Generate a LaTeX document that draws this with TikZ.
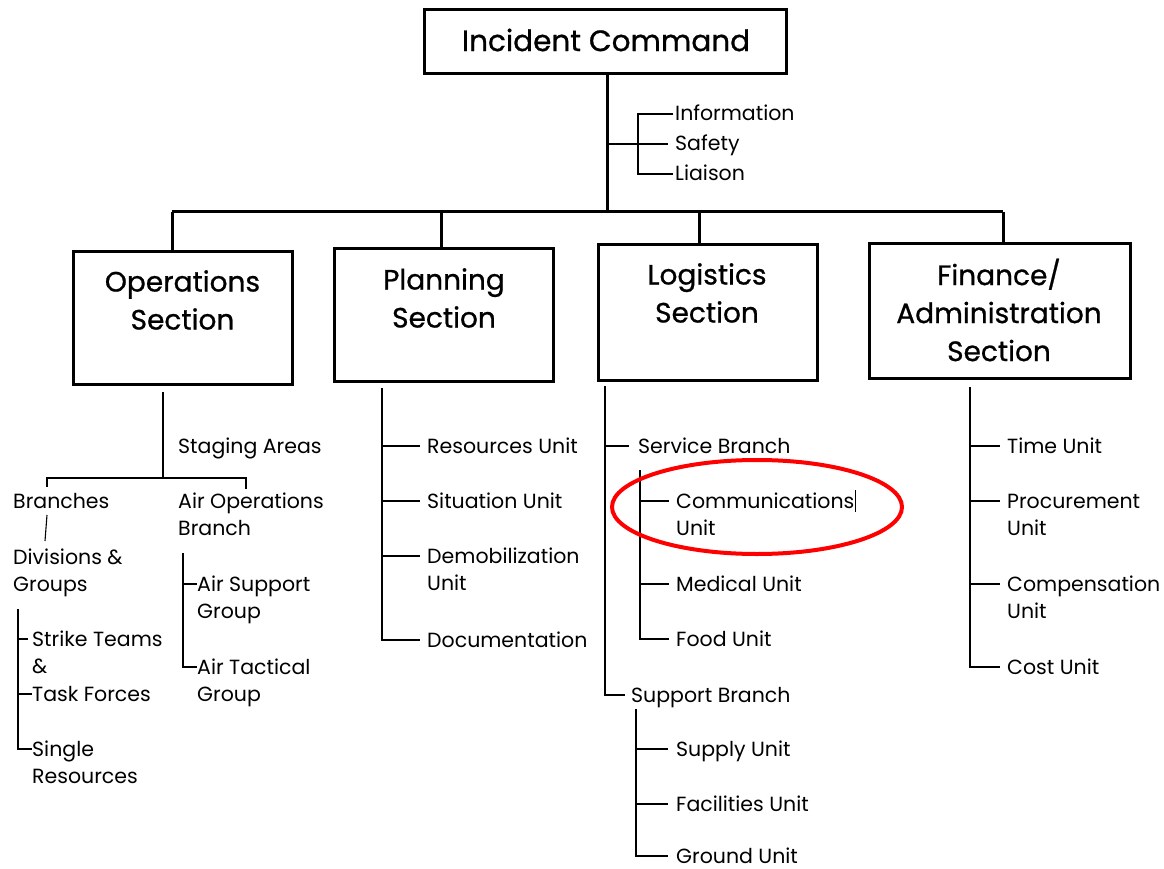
\documentclass[tikz,border=0pt]{standalone}
\usepackage{fontspec}
\setmainfont{Poppins}
\newfontfamily\boxfont{Poppins}[FakeBold=0.8]
\usetikzlibrary{positioning}
\usepackage{xcolor}

\newcommand{\stack}[1]{\begin{tabular}[t]{@{}l@{}}#1\end{tabular}}

\tikzset{
  secbox/.style={draw, line width=3pt, inner sep=0pt},
  sectext/.style={align=center, inner sep=0pt, font=\boxfont\fontsize{28}{38}\selectfont},
  item/.style={anchor=base west, inner sep=0pt, font=\fontsize{20.5}{27.5}\selectfont},
  mainline/.style={line width=3pt},
  treeline/.style={line width=1.1pt}
}

\begin{document}
\begin{tikzpicture}[x=1pt, y=-1pt]
	\useasboundingbox[fill=white] (0,0) rectangle (1164,869);

	% Command box and staff
	\node[secbox, minimum width=362, minimum height=64] (ic) at (605,42) {};
	\node[sectext, font=\boxfont\fontsize{29.5}{38}\selectfont] (ict) at (606,40) {Incident Command};
	\node[item] (info) at (675,121) {Information};
	\node[item] (safety) at (675,151) {Safety};
	\node[item] (liaison) at (675,181) {Liaison};
	\coordinate (stem) at (607,144);
	\coordinate (stf) at (638,174);
	\draw[treeline] ([shift={(-2pt,7pt)}]info.base west) -| (stf) -- ([shift={(-2pt,7pt)}]liaison.base west);
	\draw[treeline] (stem) -- ([shift={(-7pt,7pt)}]safety.base west);

	% Section boxes
	\node[secbox, minimum width=219, minimum height=133] (ops) at (182.5,317.5) {};
	\node[sectext] (opst) at (182.5,300) {Operations\\Section};
	\node[secbox, minimum width=219, minimum height=133] (plan) at (443.5,314.5) {};
	\node[sectext] (plant) at (444,298) {Planning\\Section};
	\node[secbox, minimum width=219, minimum height=136] (log) at (707.5,312) {};
	\node[sectext] (logt) at (707,293) {Logistics\\Section};
	\node[secbox, minimum width=261, minimum height=135] (fin) at (999.5,310.5) {};
	\node[sectext] (fint) at (999,310) {Finance/\\Administration\\Section};

	% Main connectors
	\coordinate (busl) at (172,212);
	\coordinate (busr) at (1003,212);
	\coordinate (s2) at (441,212);
	\coordinate (s3) at (699,212);
	\draw[mainline] (ic.south -| stem) -- (stem |- busl);
	\draw[mainline] (busl) -- (busr);
	\draw[mainline] (busl) -- (busl |- ops.north);
	\draw[mainline] (s2) -- (s2 |- plan.north);
	\draw[mainline] (s3) -- (s3 |- log.north);
	\draw[mainline] (busr) -- (busr |- fin.north);

	% Operations
	\node[item] (staging) at (178,453) {Staging Areas};
	\node[item] (branches) at (13,508) {Branches};
	\node[item] (airops) at (178,508) {\stack{Air Operations\\Branch}};
	\node[item] (divs) at (13,564) {\stack{Divisions \&\\Groups}};
	\node[item] (strike) at (32,646) {\stack{Strike Teams\\\&\\Task Forces}};
	\node[item] (single) at (32,756) {\stack{Single\\Resources}};
	\node[item] (airsup) at (197,591) {\stack{Air Support\\Group}};
	\node[item] (airtac) at (197,674) {\stack{Air Tactical\\Group}};
	\coordinate (opv) at (163,392);
	\coordinate (opl) at (47,478);
	\coordinate (opr) at (246,478);
	\draw[treeline] (opv) -- (opv |- opl);
	\draw[treeline] ([yshift=-9pt]opl) -- (opl) -- (opr) -- ([yshift=-11pt]opr);
	\draw[treeline] ([xshift=34pt,yshift=-7pt]branches.base west) -- ([xshift=32pt,yshift=23pt]divs.base west);
	\coordinate (dv) at (18,609);
	\draw[treeline] (dv) |- ([shift={(-4pt,7pt)}]strike.base west);
	\draw[treeline] (dv) |- ([shift={(0pt,-48pt)}]strike.base west);
	\draw[treeline] (dv) |- ([shift={(0pt,7pt)}]single.base west);
	\coordinate (av) at (183,553);
	\draw[treeline] (av) |- ([shift={(0pt,7pt)}]airsup.base west);
	\draw[treeline] (av) |- ([shift={(0pt,7pt)}]airtac.base west);

	% Planning
	\node[item] (res) at (427,453) {Resources Unit};
	\node[item] (sit) at (427,508) {Situation Unit};
	\node[item] (demob) at (427,563) {\stack{Demobilization\\Unit}};
	\node[item] (doc) at (427,647) {Documentation};
	\coordinate (plv) at (382,388);
	\foreach \n in {res,sit,demob,doc}
		\draw[treeline] (plv) |- ([shift={(-7pt,7pt)}]\n.base west);

	% Logistics
	\node[item] (service) at (638,453) {Service Branch};
	\node[item] (comm) at (676,508) {\stack{Communications\\Unit}};
	\node[item] (med) at (676,591) {Medical Unit};
	\node[item] (food) at (676,646) {Food Unit};
	\node[item] (support) at (631,702) {Support Branch};
	\node[item] (supply) at (676,756) {Supply Unit};
	\node[item] (facil) at (676,811) {Facilities Unit};
	\node[item] (ground) at (676,863) {Ground Unit};
	\coordinate (lv) at (605,386);
	\draw[treeline] (lv) |- ([shift={(-9pt,7pt)}]service.base west);
	\draw[treeline] (lv) |- ([shift={(-6pt,7pt)}]support.base west);
	\coordinate (sv) at (640,470);
	\foreach \n in {comm,med,food}
		\draw[treeline] (sv) |- ([shift={(-7pt,7pt)}]\n.base west);
	\coordinate (pv) at (636,709);
	\foreach \n in {supply,facil,ground}
		\draw[treeline] (pv) |- ([shift={(-8pt,7pt)}]\n.base west);
	\draw[line width=0.8pt] ([shift={(1pt,-4pt)}]comm.base east) -- ([shift={(1pt,18pt)}]comm.base east);
	\draw[red, line width=4pt] (757,507) ellipse (145pt and 47pt);

	% Finance
	\node[item] (time) at (1007,453) {Time Unit};
	\node[item] (proc) at (1007,508) {\stack{Procurement\\Unit}};
	\node[item] (comp) at (1007,591) {\stack{Compensation\\Unit}};
	\node[item] (cost) at (1007,674) {Cost Unit};
	\coordinate (fv) at (970,387);
	\foreach \n in {time,proc,comp,cost}
		\draw[treeline] (fv) |- ([shift={(-7pt,7pt)}]\n.base west);

\end{tikzpicture}
\end{document}
